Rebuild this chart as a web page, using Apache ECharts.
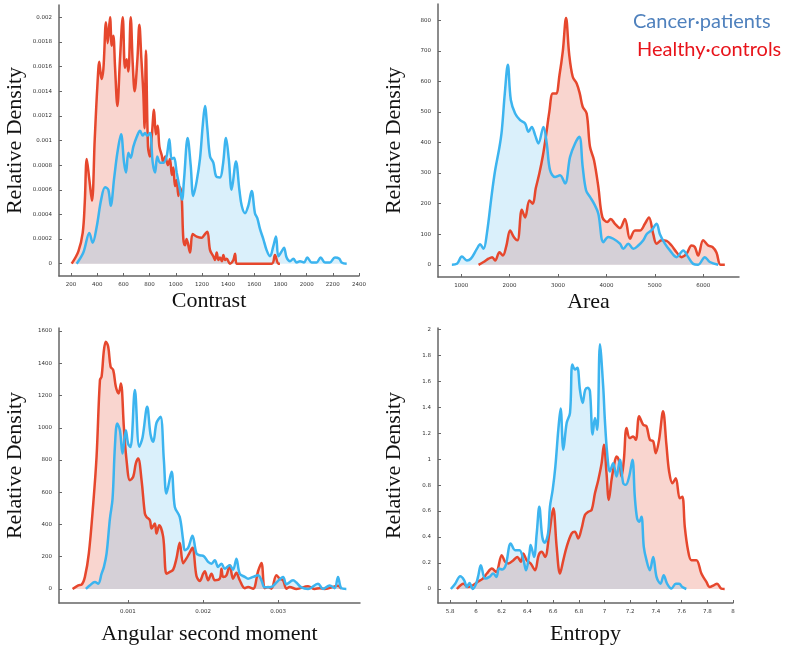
<!DOCTYPE html>
<html><head><meta charset="utf-8">
<script src="https://cdn.jsdelivr.net/npm/echarts@6/dist/echarts.min.js"></script>
<style>html,body{margin:0;padding:0;background:#fff}#c{width:790px;height:651px}</style>
</head><body><div id="c"></div>
<script>
// ---------- Data (x value, relative density) ----------
const contrastHealthy = [[205,0],[256,0.0001],[289,0.00025],[305,0.0005],[320,0.00085],[340,0.00068],[360,0.00051],[381,0.00101],[401,0.00144],[416,0.00164],[432,0.0015],[447,0.00158],[467,0.00196],[480,0.00179],[498,0.002],[511,0.00177],[523,0.00185],[536,0.0016],[554,0.00128],[574,0.00166],[595,0.002],[612,0.00159],[625,0.00166],[638,0.00156],[656,0.002],[671,0.00163],[686,0.0014],[707,0.00166],[722,0.00194],[737,0.00167],[752,0.00139],[762,0.0011],[772,0.00173],[788,0.00095],[803,0.00087],[818,0.00105],[834,0.00125],[848,0.00105],[862,0.00112],[875,0.00095],[893,0.00088],[905,0.00082],[920,0.00087],[940,0.0008],[956,0.00085],[970,0.00072],[982,0.00078],[994,0.00063],[1007,0.00068],[1020,0.00055],[1032,0.00062],[1045,0.00055],[1058,0.0002],[1071,0.00015],[1083,0.0002],[1109,0.00009],[1129,0.00024],[1160,0.00022],[1198,0.00021],[1216,0.00023],[1241,0.00026],[1262,0.00011],[1287,0.00006],[1300,0.00003],[1313,0.00009],[1326,0.00003],[1338,0.00005],[1352,0.00002],[1364,0.00007],[1377,0.00003],[1389,0.00004],[1414,0],[1440,0.00003],[1453,0.00008],[1465,0],[1491,0],[1733,0],[1758,0.00007],[1784,0],[1796,0]];
const contrastCancer = [[243,0],[294,0.00009],[340,0.00025],[365,0.00017],[396,0.0003],[430,0.00052],[460,0.00062],[485,0.0006],[503,0.00047],[530,0.0007],[554,0.0009],[582,0.00105],[605,0.00082],[620,0.00074],[638,0.0009],[656,0.00086],[676,0.00095],[702,0.00103],[727,0.00108],[747,0.00104],[765,0.00106],[783,0.00104],[803,0.00106],[824,0.00082],[842,0.00074],[859,0.00087],[880,0.00082],[905,0.00082],[930,0.00087],[951,0.00101],[969,0.00085],[987,0.00086],[1007,0.00074],[1027,0.00063],[1048,0.00052],[1063,0.00068],[1091,0.00102],[1114,0.0008],[1134,0.00055],[1160,0.00067],[1185,0.00085],[1206,0.00112],[1223,0.00128],[1241,0.0011],[1262,0.00087],[1287,0.00082],[1308,0.00071],[1338,0.0007],[1360,0.0008],[1384,0.00102],[1405,0.00085],[1427,0.0006],[1460,0.00083],[1486,0.0006],[1504,0.00047],[1529,0.00041],[1554,0.00047],[1580,0.00059],[1605,0.00041],[1623,0.00037],[1644,0.00028],[1669,0.0002],[1694,0.00011],[1720,0.00006],[1745,0.00014],[1766,0.00022],[1784,0.00006],[1809,0.0001],[1827,0.00013],[1847,0.00005],[1873,0.00002],[1898,0.00004],[1924,0.00001],[1949,0.00002],[1980,0.00001],[2005,0.00005],[2038,0.00001],[2076,0.00001],[2107,0.00005],[2140,0.00001],[2178,0.00001],[2216,0.00005],[2250,0.00004],[2267,0.00001],[2306,0]];

const areaHealthy = [[1358,0],[1461,9],[1564,20],[1640,25],[1701,14],[1791,41],[1860,30],[1930,60],[2011,112],[2090,90],[2162,80],[2252,180],[2320,155],[2410,210],[2478,200],[2540,250],[2616,300],[2685,355],[2750,420],[2820,500],[2891,560],[2960,560],[3030,620],[3100,700],[3166,807],[3230,690],[3304,615],[3386,593],[3450,560],[3510,517],[3592,495],[3661,386],[3744,342],[3833,255],[3916,156],[4019,140],[4088,150],[4177,134],[4280,120],[4383,150],[4487,85],[4590,112],[4693,112],[4796,134],[4879,155],[4968,100],[5037,69],[5140,80],[5243,78],[5346,63],[5449,41],[5552,25],[5656,36],[5759,63],[5827,58],[5896,30],[6000,80],[6103,63],[6192,58],[6274,40],[6357,0],[6447,0]];
const areaCancer = [[807,0],[911,3],[1014,27],[1117,14],[1200,20],[1323,52],[1392,67],[1461,52],[1530,102],[1633,233],[1701,309],[1791,386],[1839,440],[1900,560],[1963,654],[2025,539],[2114,495],[2217,473],[2320,462],[2389,435],[2458,451],[2527,424],[2595,397],[2699,451],[2767,397],[2836,309],[2939,287],[3042,293],[3146,266],[3249,353],[3352,397],[3441,419],[3510,320],[3579,244],[3661,222],[3744,200],[3833,167],[3937,74],[4040,91],[4143,85],[4280,69],[4349,52],[4452,69],[4555,52],[4659,63],[4762,80],[4830,100],[4934,113],[5037,134],[5106,100],[5209,69],[5312,47],[5449,25],[5587,47],[5690,25],[5793,3],[5896,0],[6034,25],[6137,9],[6309,0]];

const asmHealthy = [[0.000264,0],[0.00034,23],[0.000384,27],[0.000428,75],[0.00048,220],[0.000539,530],[0.000583,820],[0.000628,1296],[0.00065,1317],[0.000681,1482],[0.000707,1534],[0.000738,1503],[0.00077,1379],[0.000805,1358],[0.00084,1254],[0.000876,1213],[0.000907,1275],[0.000947,1000],[0.000982,800],[0.001027,675],[0.001071,696],[0.001106,780],[0.001137,809],[0.001182,675],[0.001226,468],[0.001248,447],[0.001293,426],[0.001315,375],[0.001359,406],[0.001381,344],[0.001417,395],[0.00147,323],[0.001514,95],[0.001559,106],[0.001603,120],[0.001647,190],[0.00169,286],[0.001736,160],[0.00178,190],[0.001816,220],[0.00186,255],[0.001913,80],[0.001957,50],[0.002002,95],[0.002024,110],[0.002068,54],[0.002113,95],[0.002157,54],[0.002223,64],[0.002246,126],[0.002268,75],[0.002312,85],[0.002356,147],[0.0024,64],[0.002445,100],[0.002489,54],[0.002556,5],[0.0026,12],[0.002667,2],[0.002733,110],[0.002778,161],[0.002822,5],[0.002866,12],[0.00291,2],[0.002977,85],[0.003021,64],[0.003066,54],[0.00311,2],[0.003154,12],[0.003243,0],[0.003398,17],[0.003487,0],[0.003553,5],[0.00362,0],[0.003797,20],[0.003841,0]];
const asmCancer = [[0.000441,0],[0.000495,23],[0.000561,43],[0.000605,33],[0.00065,95],[0.000681,137],[0.000716,219],[0.000761,437],[0.000796,560],[0.000827,882],[0.000858,1027],[0.000894,985],[0.000929,840],[0.000973,985],[0.001004,900],[0.001035,880],[0.001093,1234],[0.001151,882],[0.001195,940],[0.001257,1130],[0.001301,960],[0.001337,913],[0.001381,1030],[0.001434,1068],[0.001479,800],[0.001514,592],[0.001581,727],[0.001625,509],[0.00169,447],[0.001736,300],[0.001758,240],[0.001802,255],[0.00186,330],[0.001913,220],[0.001957,209],[0.002011,203],[0.002068,168],[0.002113,157],[0.002157,178],[0.002201,137],[0.002246,157],[0.00229,126],[0.002356,147],[0.0024,120],[0.002445,188],[0.002489,95],[0.002556,75],[0.0026,64],[0.002667,75],[0.002733,85],[0.002778,54],[0.002822,10],[0.00291,12],[0.002977,40],[0.003066,75],[0.00311,30],[0.003199,54],[0.003243,40],[0.003309,10],[0.003398,0],[0.003531,33],[0.003598,0],[0.003686,22],[0.003753,5],[0.003797,75],[0.003841,5],[0.003908,0]];

const entropyHealthy = [[5.852,0],[5.904,0.041],[5.935,0.015],[5.976,0.028],[6.012,0.054],[6.054,0.08],[6.085,0.119],[6.124,0.157],[6.157,0.131],[6.201,0.26],[6.227,0.209],[6.253,0.196],[6.292,0.222],[6.323,0.247],[6.349,0.209],[6.369,0.273],[6.395,0.222],[6.426,0.196],[6.46,0.144],[6.488,0.26],[6.512,0.286],[6.538,0.247],[6.571,0.428],[6.602,0.621],[6.628,0.325],[6.654,0.119],[6.68,0.222],[6.706,0.325],[6.745,0.428],[6.77,0.441],[6.796,0.389],[6.822,0.466],[6.848,0.57],[6.874,0.595],[6.9,0.608],[6.926,0.737],[6.952,0.84],[6.978,0.969],[6.996,1.111],[7.016,0.892],[7.034,0.686],[7.055,0.84],[7.073,0.943],[7.094,1.021],[7.115,0.982],[7.133,0.866],[7.151,0.995],[7.172,1.24],[7.197,1.162],[7.223,1.175],[7.244,1.149],[7.27,1.33],[7.301,1.265],[7.327,1.253],[7.353,1.149],[7.379,1.137],[7.399,1.046],[7.425,1.149],[7.456,1.369],[7.482,1.111],[7.503,0.905],[7.529,0.814],[7.555,0.853],[7.586,0.698],[7.606,0.711],[7.625,0.479],[7.65,0.299],[7.676,0.222],[7.715,0.222],[7.754,0.119],[7.793,0.054],[7.819,0.015],[7.85,0.028],[7.876,0.041],[7.909,0.003],[7.935,0]];
const entropyCancer = [[5.805,0],[5.839,0.041],[5.878,0.098],[5.909,0.067],[5.929,0.015],[5.95,0.046],[5.976,0],[6.002,0.041],[6.02,0.11],[6.038,0.183],[6.072,0.08],[6.105,0.093],[6.134,0.119],[6.16,0.093],[6.18,0.157],[6.206,0.15],[6.232,0.183],[6.271,0.351],[6.305,0.299],[6.339,0.299],[6.37,0.222],[6.39,0.144],[6.416,0.273],[6.426,0.338],[6.452,0.247],[6.473,0.428],[6.493,0.634],[6.516,0.402],[6.535,0.356],[6.561,0.428],[6.576,0.634],[6.597,0.763],[6.618,0.943],[6.641,1.227],[6.659,1.39],[6.68,1.072],[6.706,1.278],[6.732,1.356],[6.75,1.729],[6.771,1.691],[6.789,1.704],[6.809,1.536],[6.83,1.433],[6.851,1.536],[6.871,1.549],[6.887,1.523],[6.908,1.19],[6.926,1.317],[6.944,1.227],[6.965,1.884],[6.99,1.562],[7.003,1.304],[7.021,1.046],[7.042,0.905],[7.068,0.969],[7.094,0.866],[7.12,0.995],[7.146,0.814],[7.166,0.802],[7.192,0.866],[7.218,0.995],[7.236,0.711],[7.254,0.544],[7.27,0.518],[7.288,0.557],[7.306,0.325],[7.327,0.222],[7.353,0.144],[7.379,0.247],[7.405,0.093],[7.436,0.041],[7.461,0.106],[7.487,0.041],[7.521,0.003],[7.555,0.041],[7.581,0.041],[7.606,0.015],[7.637,0]];

// ---------- Tick values ----------
const contrastXTicks = [200,400,600,800,1000,1200,1400,1600,1800,2000,2200,2400];
const contrastYTicks = [0,0.0002,0.0004,0.0006,0.0008,0.001,0.0012,0.0014,0.0016,0.0018,0.002];
const areaXTicks = [1000,2000,3000,4000,5000,6000];
const areaYTicks = [0,100,200,300,400,500,600,700,800];
const asmXTicks = [0.001,0.002,0.003];
const asmYTicks = [0,200,400,600,800,1000,1200,1400,1600];
const entropyXTicks = [5.8,6,6.2,6.4,6.6,6.8,7,7.2,7.4,7.6,7.8,8];
const entropyYTicks = [0,0.2,0.4,0.6,0.8,1,1.2,1.4,1.6,1.8,2];

const xNames = ['Contrast','Area','Angular second moment','Entropy'];
const yName = 'Relative Density';
const legendNames = ['Cancer·patients','Healthy·controls'];

// ---------- Layout / styles ----------
const panels = [
  {grid:{left:59,top:5,width:300,height:271}, x:[108,2400], y:[-0.0001,0.0021], xt:contrastXTicks, yt:contrastYTicks, h:contrastHealthy, c:contrastCancer, xGap:14},
  {grid:{left:438,top:4,width:301,height:273}, x:[520,6740], y:[-40,853], xt:areaXTicks, yt:areaYTicks, h:areaHealthy, c:areaCancer, xGap:14},
  {grid:{left:59,top:328,width:301,height:275}, x:[0.000083,0.00409], y:[-87,1619], xt:asmXTicks, yt:asmYTicks, h:asmHealthy, c:asmCancer, xGap:20},
  {grid:{left:438,top:328,width:295,height:275}, x:[5.705,8.0], y:[-0.108,2.01], xt:entropyXTicks, yt:entropyYTicks, h:entropyHealthy, c:entropyCancer, xGap:20}
];
const RED='#e6472d', BLUE='#3cb4ef';
const axisLine = {onZero:false, lineStyle:{color:'#666', width:1.5}};
const labelStyle = {color:'#333', fontSize:5.5, fontFamily:'DejaVu Sans', formatter:v=>String(v)};
const nameStyle = {fontFamily:'Liberation Serif', fontSize:22, color:'#111'};

const grid=[], xAxis=[], yAxis=[], series=[];
panels.forEach((p,i)=>{
  grid.push(p.grid);
  xAxis.push({type:'value', gridIndex:i, min:p.x[0], max:p.x[1], axisLine,
    axisTick:{show:true, inside:true, length:3, customValues:p.xt, lineStyle:{color:'#666'}},
    axisLabel:Object.assign({margin:6, customValues:p.xt}, labelStyle),
    splitLine:{show:false}, name:xNames[i], nameLocation:'middle', nameGap:p.xGap, nameTextStyle:nameStyle});
  yAxis.push({type:'value', gridIndex:i, min:p.y[0], max:p.y[1], axisLine,
    axisTick:{show:true, inside:true, length:3, customValues:p.yt, lineStyle:{color:'#666'}},
    axisLabel:Object.assign({margin:7, customValues:p.yt}, labelStyle),
    splitLine:{show:false}, name:yName, nameLocation:'middle', nameGap:33, nameTextStyle:nameStyle});
  const base = {type:'line', xAxisIndex:i, yAxisIndex:i, smooth:0.35, symbol:'none', animation:false, silent:true};
  series.push(Object.assign({}, base, {data:p.h, z:1, lineStyle:{width:0, opacity:0}, areaStyle:{color:'#f9d5cf', opacity:1}}));
  series.push(Object.assign({}, base, {data:p.c, z:2, lineStyle:{width:0, opacity:0}, areaStyle:{color:'rgb(107,195,239)', opacity:0.25}}));
  series.push(Object.assign({}, base, {data:p.h, z:3, lineStyle:{width:2.5, color:RED}}));
  series.push(Object.assign({}, base, {data:p.c, z:4, lineStyle:{width:2.5, color:BLUE}}));
});

const chart = echarts.init(document.getElementById('c'), null, {renderer:'canvas'});
chart.setOption({
  animation:false, backgroundColor:'#fff',
  grid, xAxis, yAxis, series,
  graphic:[
    {type:'text', left:633, top:12, style:{text:legendNames[0], font:'20px Lato', fill:'#4f81bd'}},
    {type:'text', left:637, top:40, style:{text:legendNames[1], font:'20px Lato', fill:'#e8141b'}}
  ]
});
</script></body></html>
